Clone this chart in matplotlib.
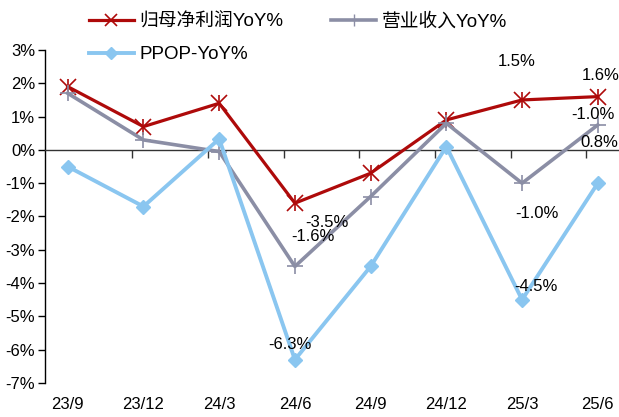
import matplotlib
matplotlib.use("Agg")
import matplotlib.pyplot as plt
import matplotlib.transforms as mtransforms
from matplotlib.lines import Line2D

plt.rcParams['font.family'] = ['Liberation Sans', 'Noto Sans CJK SC', 'DejaVu Sans']

# 数据
periods = ['23/9', '23/12', '24/3', '24/6', '24/9', '24/12', '25/3', '25/6']
profit_yoy = [1.9, 0.7, 1.4, -1.6, -0.7, 0.9, 1.5, 1.6]      # 归母净利润YoY%
revenue_yoy = [1.7, 0.3, -0.05, -3.5, -1.4, 0.8, -1.0, 0.75]  # 营业收入YoY%
ppop_yoy = [-0.5, -1.7, 0.33, -6.3, -3.5, 0.1, -4.5, -1.0]    # PPOP-YoY%

# 数据标签（文本, 所属序列, 点序号, 偏移像素）
labels = [
    ('1.5%', profit_yoy, 6, (-5, 38)),
    ('1.6%', profit_yoy, 7, (3, 21)),
    ('-1.0%', revenue_yoy, 7, (-5, 10)),
    ('0.8%', revenue_yoy, 7, (2, -18)),
    ('-1.0%', revenue_yoy, 6, (15, -30)),
    ('-4.5%', ppop_yoy, 6, (14, 13)),
    ('-6.3%', ppop_yoy, 3, (-5, 15)),
    ('-3.5%', revenue_yoy, 3, (32, 44)),
    ('-1.6%', profit_yoy, 3, (18, -33)),
]

red = '#AE0A0A'
gray = '#8B8EA5'
blue = '#8AC6F0'

fig = plt.figure(figsize=(6.19, 4.17), dpi=100)
ax = fig.add_axes([45 / 619, 1 - 383 / 417, 1 - 45 / 619, 333 / 417])

x = list(range(len(periods)))
ax.plot(x, profit_yoy, color=red, lw=2.3, zorder=3)
ax.plot(x, profit_yoy, ls='none', marker='x', ms=11, mew=1.2, color=red, zorder=3)
ax.plot(x, profit_yoy, ls='none', marker='|', ms=11, mew=1.2, color=red, zorder=3)
ax.plot(x, revenue_yoy, color=gray, lw=2.6, marker='+', ms=11, mew=1.2, zorder=4)
ax.plot(x, ppop_yoy, color=blue, lw=2.8, marker='D', ms=7.5, zorder=5)

ax.set_xlim(-0.3, 7.28)
ax.set_ylim(-7, 3)
ax.set_yticks(range(-7, 4))
ax.set_yticklabels([f'{v}%' for v in range(-7, 4)], fontsize=12)
ax.tick_params(axis='y', direction='out', length=5, width=1, pad=2)

for s in ['top', 'right']:
    ax.spines[s].set_visible(False)
ax.spines['bottom'].set_position(('data', 0))
ax.spines['left'].set_linewidth(1)
ax.spines['bottom'].set_linewidth(1)
ax.spines['bottom'].set_color('#333333')

ax.set_xticks([i + 0.85 for i in range(7)])
ax.set_xticklabels([])
ax.tick_params(axis='x', direction='out', length=6, width=1, color='#333333')

trans = mtransforms.blended_transform_factory(ax.transData, ax.transAxes)
for i, p in enumerate(periods):
    ax.text(i, -0.065, p, transform=trans, ha='center', va='center', fontsize=12)

for txt, series, idx, (dx, dy) in labels:
    ax.annotate(txt, (idx, series[idx]), xytext=(dx, dy), textcoords='offset pixels',
                ha='center', va='center', fontsize=12, zorder=6, annotation_clip=False)

h_red = Line2D([], [], color=red, lw=2.3, marker='x', ms=8, mew=1.2)
h_gray = Line2D([], [], color=gray, lw=2.6, marker='|', ms=9, mew=1.0)
h_blue = Line2D([], [], color=blue, lw=2.8, marker='D', ms=6)
fig.legend([h_red, h_blue, h_gray], ['归母净利润YoY%', 'PPOP-YoY%', '营业收入YoY%'],
           loc='upper left', bbox_to_anchor=(72 / 619, 1.01), ncol=2, frameon=False,
           fontsize=13.5, handlelength=2.4, labelspacing=0.85, columnspacing=2.55,
           handletextpad=0.3)

fig.savefig('out.png', dpi=100)
